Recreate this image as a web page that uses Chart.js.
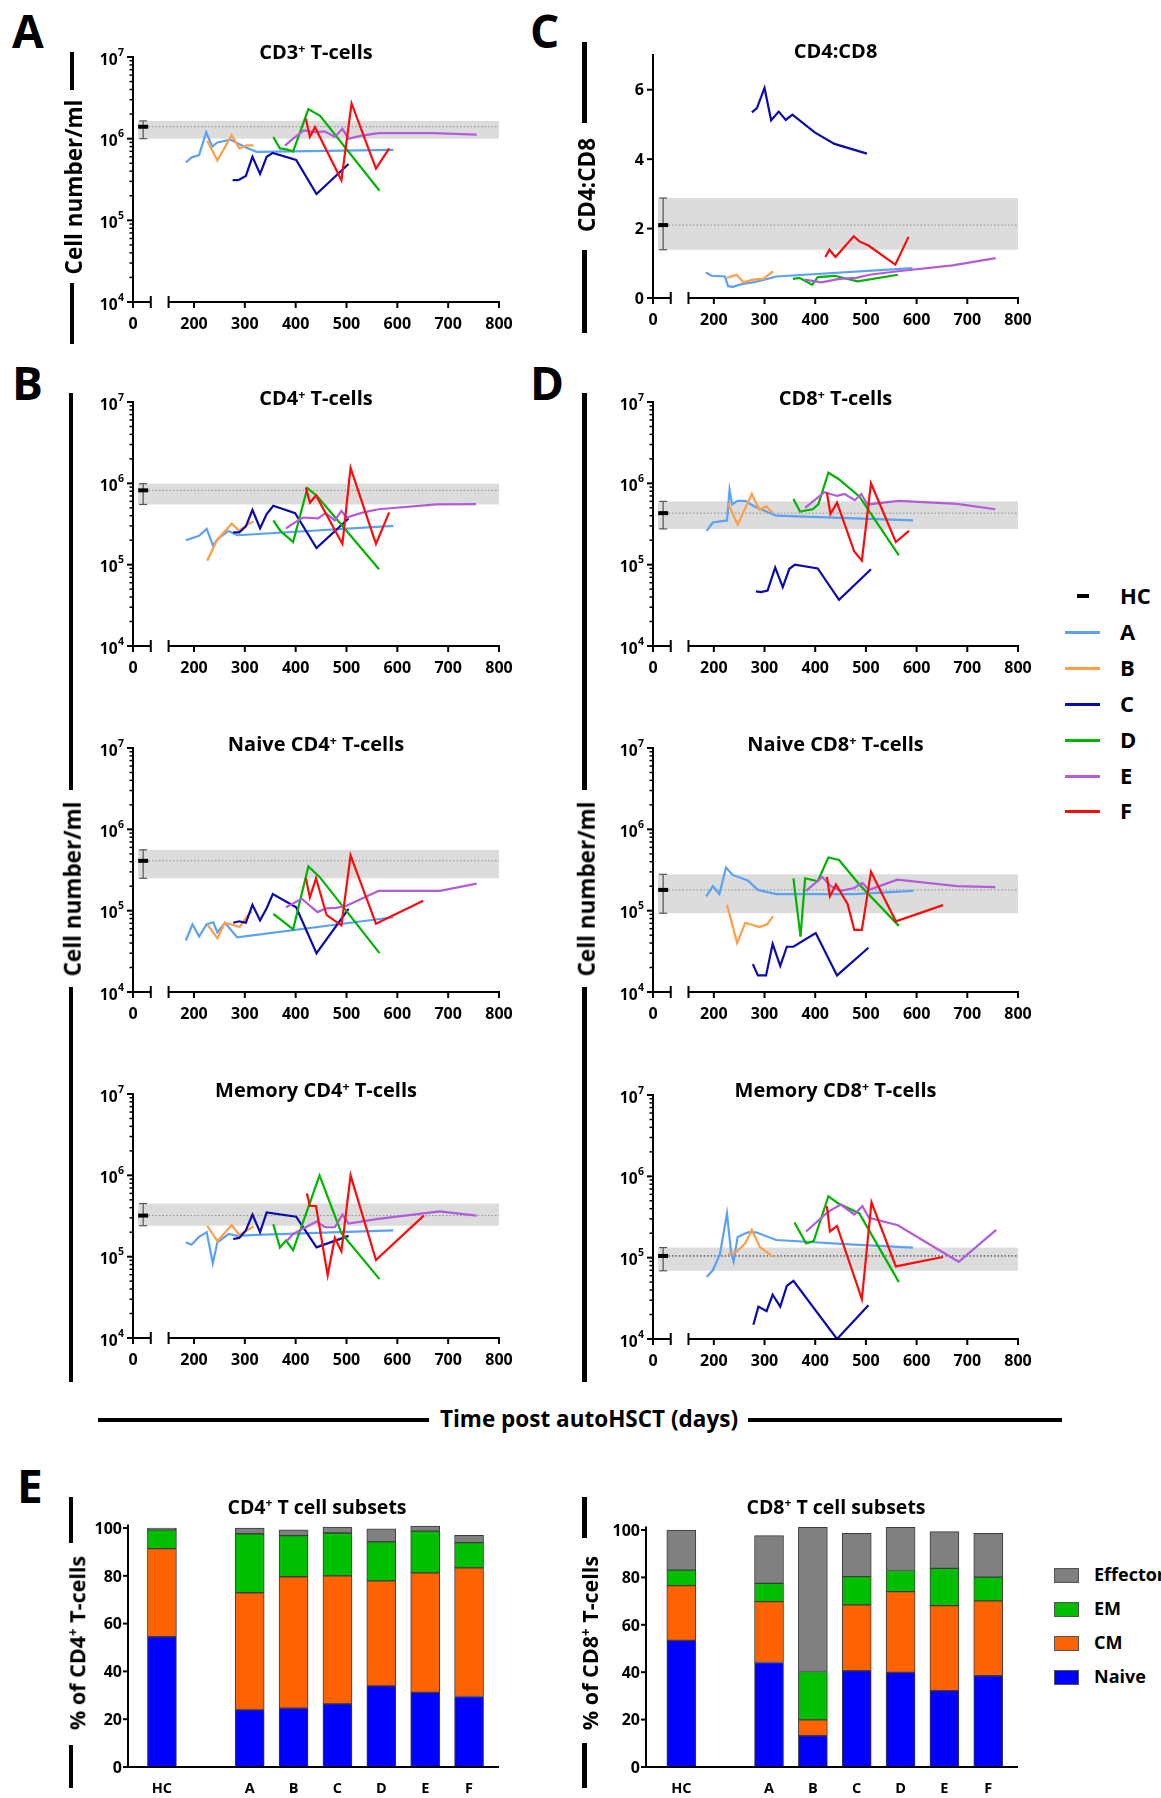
<!DOCTYPE html>
<html>
<head>
<meta charset="utf-8">
<script src="https://cdn.jsdelivr.net/npm/chart.js@4.4.1/dist/chart.umd.min.js"></script>
<style>
  html, body { margin: 0; padding: 0; background: #fff; }
  body { width: 1161px; height: 1798px; position: relative; overflow: hidden; font-family: "Open Sans", Lato, sans-serif; color: #000; }
  canvas { position: absolute; }
  .t { position: absolute; white-space: nowrap; font-weight: bold; line-height: 1; }
  .sp { font-size: 0.62em; position: relative; top: -0.55em; }
  .r { position: absolute; }
</style>
</head>
<body>
<script>
// ---------------- DATA ----------------
const PATIENTS = ['A', 'B', 'C', 'D', 'E', 'F'];
const DAY_TICKS = [0, 200, 300, 400, 500, 600, 700, 800];
const LOG_TICK_EXPONENTS = [4, 5, 6, 7];
const RATIO_TICKS = [0, 2, 4, 6];
const PERCENT_TICKS = [0, 20, 40, 60, 80, 100];
const BAR_GROUPS = ['HC', '', 'A', 'B', 'C', 'D', 'E', 'F'];
const SUBSETS = ['Effector', 'EM', 'CM', 'Naive'];

// [day, value] pairs per panel and patient
const CD3_A = [[184,5.1e5],[195,5.9e5],[210,6.3e5],[224,1.2e6],[236,8.0e5],[246,9.0e5],[272,9.7e5],[300,7.9e5],[323,6.9e5],[592,7.3e5]];
const CD3_B = [[226,9.4e5],[246,5.4e5],[274,1.1e6],[289,7.6e5],[304,8.3e5],[317,8.3e5]];
const CD3_C = [[276,3.1e5],[287,3.1e5],[302,3.5e5],[315,6.0e5],[330,3.7e5],[343,6.0e5],[355,6.7e5],[401,5.5e5],[441,2.1e5],[504,4.9e5]];
const CD3_D = [[356,1.05e6],[369,7.6e5],[382,7.4e5],[395,7.0e5],[425,2.3e6],[448,1.9e6],[565,2.3e5]];
const CD3_E = [[379,8.2e5],[395,1.0e6],[416,1.26e6],[438,1.2e6],[457,1.23e6],[477,1.05e6],[492,1.32e6],[504,1.0e6],[533,1.1e6],[563,1.17e6],[671,1.17e6],[756,1.12e6]];
const CD3_F = [[420,1.76e6],[428,1.05e6],[438,1.38e6],[490,3.1e5],[510,2.7e6],[558,4.3e5],[584,7.6e5]];

const RATIO_A = [[184,0.74],[195,0.64],[222,0.62],[228,0.34],[238,0.32],[255,0.40],[277,0.45],[300,0.53],[323,0.62],[592,0.86]];
const RATIO_B = [[226,0.58],[245,0.67],[259,0.45],[277,0.53],[297,0.55],[317,0.77]];
const RATIO_C = [[275,5.35],[285,5.47],[300,6.05],[313,5.12],[328,5.37],[342,5.13],[355,5.28],[399,4.77],[438,4.44],[502,4.16]];
const RATIO_D = [[356,0.55],[369,0.58],[394,0.38],[405,0.60],[438,0.64],[484,0.48],[563,0.67]];
const RATIO_E = [[379,0.53],[412,0.45],[448,0.55],[481,0.58],[507,0.67],[563,0.77],[671,0.94],[756,1.15]];
const RATIO_F = [[420,1.18],[428,1.39],[440,1.18],[476,1.78],[487,1.63],[505,1.51],[558,0.96],[584,1.76]];

const CD4_A = [[184,2.0e5],[210,2.27e5],[225,2.75e5],[237,1.74e5],[248,2.1e5],[268,2.6e5],[285,2.3e5],[592,3.0e5]];
const CD4_B = [[226,1.12e5],[245,2.0e5],[274,3.2e5],[289,2.6e5],[304,3.1e5],[317,3.4e5]];
const CD4_C = [[277,2.5e5],[289,2.5e5],[302,2.95e5],[315,4.7e5],[330,2.8e5],[343,4.2e5],[356,5.3e5],[399,4.3e5],[441,1.6e5],[504,3.7e5]];
const CD4_D = [[356,3.5e5],[370,2.6e5],[395,1.9e5],[423,8.7e5],[442,7.0e5],[564,8.8e4]];
const CD4_E = [[381,2.8e5],[395,3.2e5],[414,3.8e5],[444,3.7e5],[459,4.3e5],[477,3.5e5],[490,4.6e5],[500,3.8e5],[533,4.4e5],[563,4.8e5],[677,5.5e5],[755,5.55e5]];
const CD4_F = [[420,8.9e5],[428,5.8e5],[440,7.1e5],[492,1.8e5],[508,1.55e6],[558,1.8e5],[584,4.4e5]];

const CD8_A = [[186,2.6e5],[198,3.3e5],[226,3.5e5],[231,8.3e5],[236,5.5e5],[247,6.1e5],[262,6.1e5],[280,5.2e5],[323,4.0e5],[593,3.5e5]];
const CD8_B = [[228,5.7e5],[247,3.1e5],[275,7.4e5],[290,4.7e5],[303,5.2e5],[316,4.4e5]];
const CD8_C = [[283,4.7e4],[293,4.6e4],[306,4.8e4],[321,9.2e4],[336,5.3e4],[349,8.9e4],[360,1.0e5],[405,9.0e4],[447,3.7e4],[510,8.8e4]];
const CD8_D = [[357,6.4e5],[370,4.5e5],[395,4.8e5],[406,5.5e5],[426,1.35e6],[446,1.13e6],[487,6.9e5],[565,1.3e5]];
const CD8_E = [[380,5.0e5],[418,7.8e5],[443,7.0e5],[458,7.4e5],[478,6.2e5],[491,7.4e5],[503,5.5e5],[565,6.1e5],[680,5.6e5],[755,4.8e5]];
const CD8_F = [[423,7.7e5],[430,4.2e5],[443,5.8e5],[477,1.45e5],[492,1.12e5],[510,1.0e6],[559,1.9e5],[585,2.6e5]];

const NCD4_A = [[184,4.3e4],[197,6.8e4],[210,4.8e4],[225,6.8e4],[238,7.2e4],[246,5.4e4],[261,7.1e4],[285,4.7e4],[592,8.3e4]];
const NCD4_B = [[226,6.8e4],[246,4.6e4],[261,7.1e4],[290,6.3e4],[304,8.5e4],[314,9.8e4]];
const NCD4_C = [[277,7.1e4],[289,7.4e4],[302,7.1e4],[315,1.18e5],[330,7.6e4],[343,1.07e5],[355,1.6e5],[401,1.1e5],[441,3.0e4],[504,1.05e5]];
const NCD4_D = [[356,9.1e4],[369,7.9e4],[395,5.9e4],[425,3.5e5],[447,2.6e5],[565,3.0e4]];
const NCD4_E = [[381,1.1e5],[412,1.4e5],[443,9.6e4],[460,1.07e5],[480,1.08e5],[500,1.15e5],[563,1.75e5],[684,1.75e5],[756,2.15e5]];
const NCD4_F = [[420,2.5e5],[428,1.45e5],[440,2.5e5],[461,8.8e4],[490,6.6e4],[508,4.8e5],[558,6.9e4],[651,1.32e5]];

const NCD8_A = [[185,1.5e5],[198,2.0e5],[211,1.6e5],[224,3.4e5],[237,2.75e5],[267,2.35e5],[287,1.8e5],[323,1.6e5],[477,1.6e5],[593,1.75e5]];
const NCD8_B = [[226,1.18e5],[246,4.0e4],[262,7.1e4],[290,6.3e4],[305,6.8e4],[317,8.5e4]];
const NCD8_C = [[277,2.2e4],[287,1.6e4],[303,1.6e4],[316,3.9e4],[331,2.1e4],[344,3.6e4],[357,3.6e4],[401,5.3e4],[443,1.6e4],[505,3.5e4]];
const NCD8_D = [[357,2.5e5],[371,4.8e4],[380,2.5e5],[405,2.3e5],[426,4.5e5],[447,4.2e5],[487,2.1e5],[565,6.5e4]];
const NCD8_E = [[382,1.75e5],[414,2.6e5],[431,2.0e5],[450,1.75e5],[477,1.9e5],[493,2.2e5],[506,1.8e5],[562,2.4e5],[680,2.0e5],[755,1.95e5]];
const NCD8_F = [[423,2.6e5],[429,1.5e5],[441,2.1e5],[464,1.2e5],[477,5.8e4],[492,5.8e4],[510,3.0e5],[559,7.4e4],[652,1.17e5]];

const MCD4_A = [[184,1.5e5],[195,1.4e5],[210,1.75e5],[225,2.0e5],[237,8.3e4],[246,1.5e5],[268,1.9e5],[285,1.8e5],[323,1.85e5],[592,2.1e5]];
const MCD4_B = [[226,2.4e5],[246,1.55e5],[274,2.45e5],[289,1.85e5],[304,2.1e5],[317,2.35e5]];
const MCD4_C = [[277,1.65e5],[289,1.7e5],[302,2.1e5],[315,3.3e5],[330,2.0e5],[343,3.5e5],[401,3.1e5],[441,1.3e5],[504,1.8e5]];
const MCD4_D = [[356,2.5e5],[369,1.3e5],[381,1.58e5],[395,1.2e5],[447,1.0e6],[490,1.95e5],[565,5.3e4]];
const MCD4_E = [[382,1.55e5],[395,1.9e5],[441,2.7e5],[458,2.3e5],[477,2.3e5],[492,3.3e5],[504,2.55e5],[559,2.9e5],[683,3.6e5],[756,3.2e5]];
const MCD4_F = [[422,6.0e5],[428,4.2e5],[440,4.2e5],[463,5.9e4],[477,1.7e5],[490,1.17e5],[508,1.0e6],[558,9.1e4],[652,3.2e5]];

const MCD8_A = [[186,5.8e4],[198,7.0e4],[212,1.1e5],[226,3.5e5],[234,1.15e5],[239,9.0e4],[247,1.8e5],[267,2.05e5],[283,2.05e5],[323,1.65e5],[477,1.45e5],[593,1.33e5]];
const MCD8_B = [[228,1.1e5],[246,1.2e5],[262,1.5e5],[275,2.2e5],[291,1.35e5],[316,1.03e5]];
const MCD8_C = [[278,1.5e4],[288,2.5e4],[304,2.2e4],[316,3.5e4],[331,2.5e4],[344,4.5e4],[357,5.2e4],[443,1.0e4],[505,2.6e4]];
const MCD8_D = [[359,2.7e5],[382,1.5e5],[397,1.6e5],[426,5.7e5],[444,4.7e5],[487,3.5e5],[565,5.0e4]];
const MCD8_E = [[382,2.1e5],[424,3.6e5],[450,4.5e5],[477,3.4e5],[493,4.3e5],[506,3.1e5],[563,2.5e5],[683,8.9e4],[757,2.2e5]];
const MCD8_F = [[423,4.3e5],[429,2.1e5],[443,2.45e5],[492,3.1e4],[511,4.8e5],[559,7.8e4],[652,1.02e5]];

// healthy controls, order: CD3, CD4:CD8, CD4, CD8, naive CD4, naive CD8, memory CD4, memory CD8
const HC_MEAN = [1.4e6, 2.1, 8.2e5, 4.3e5, 4.1e5, 1.8e5, 3.2e5, 1.05e5];
const HC_LOW  = [1.0e6, 1.39, 5.5e5, 2.75e5, 2.5e5, 9.3e4, 2.4e5, 6.9e4];
const HC_HIGH = [1.65e6, 2.88, 9.9e5, 6.0e5, 5.6e5, 2.8e5, 4.5e5, 1.33e5];

// subset percentages (HC, gap, A..F)
const CD4_NAIVE = [54.5, null, 23.9, 24.6, 26.4, 33.9, 31.2, 29.5];
const CD4_CM    = [36.9, null, 49.0, 55.0, 53.6, 44.0, 50.0, 53.8];
const CD4_EM    = [7.8,  null, 24.7, 17.2, 17.9, 16.3, 17.5, 10.6];
const CD4_EFF   = [0.8,  null, 2.4,  2.4,  2.5,  5.5,  2.1,  3.0];
const CD8_NAIVE = [53.4, null, 44.1, 13.2, 40.6, 39.9, 32.2, 38.5];
const CD8_CM    = [23.1, null, 25.7, 6.7,  27.8, 34.1, 35.9, 31.6];
const CD8_EM    = [6.6,  null, 7.7,  20.4, 11.9, 8.9,  15.7, 10.0];
const CD8_EFF   = [16.9, null, 20.1, 60.8, 18.3, 18.2, 15.5, 18.5];

// ---------------- STYLE / LAYOUT ----------------
const PATIENT_COLORS = ['#5AA2F5', '#FF9E45', '#0A0AAE', '#00B400', '#B35BDB', '#FF0A0A'];
const SUBSET_COLORS = { Naive: '#0000FF', CM: '#FF6200', EM: '#00BF00', Effector: '#808080' };
const FONT = '"Open Sans", Lato, sans-serif';
const AXIS_ORIGIN = 80;    // axis position of the "0" label (broken axis)
const HC_X = 100;          // where the HC mean is plotted
const BAND_START = 90;
const LEFT_SEG_END = 115;
const RIGHT_SEG_START = 150;
const AXIS_MAX = 800;
const PCT_MAX = 102;

const LINE_PANELS = [
  { series: [CD3_A, CD3_B, CD3_C, CD3_D, CD3_E, CD3_F], hc: 0, log: true, box: { l: 133, t: 57, r: 499, b: 302 }, title: 'CD3<span class="sp">+</span> T-cells', titleY: 53, meanColor: '#8c8c8c' },
  { series: [RATIO_A, RATIO_B, RATIO_C, RATIO_D, RATIO_E, RATIO_F], hc: 1, log: false, box: { l: 653, t: 55, r: 1018, b: 298 }, title: 'CD4:CD8', titleY: 52, meanColor: '#8c8c8c' },
  { series: [CD4_A, CD4_B, CD4_C, CD4_D, CD4_E, CD4_F], hc: 2, log: true, box: { l: 133, t: 402, r: 499, b: 646 }, title: 'CD4<span class="sp">+</span> T-cells', titleY: 399, meanColor: '#8c8c8c' },
  { series: [CD8_A, CD8_B, CD8_C, CD8_D, CD8_E, CD8_F], hc: 3, log: true, box: { l: 653, t: 402, r: 1018, b: 646 }, title: 'CD8<span class="sp">+</span> T-cells', titleY: 399, meanColor: '#8c8c8c' },
  { series: [NCD4_A, NCD4_B, NCD4_C, NCD4_D, NCD4_E, NCD4_F], hc: 4, log: true, box: { l: 133, t: 748, r: 499, b: 992 }, title: 'Naive CD4<span class="sp">+</span> T-cells', titleY: 745, meanColor: '#8c8c8c' },
  { series: [NCD8_A, NCD8_B, NCD8_C, NCD8_D, NCD8_E, NCD8_F], hc: 5, log: true, box: { l: 653, t: 748, r: 1018, b: 992 }, title: 'Naive CD8<span class="sp">+</span> T-cells', titleY: 745, meanColor: '#8c8c8c' },
  { series: [MCD4_A, MCD4_B, MCD4_C, MCD4_D, MCD4_E, MCD4_F], hc: 6, log: true, box: { l: 133, t: 1094, r: 499, b: 1338 }, title: 'Memory CD4<span class="sp">+</span> T-cells', titleY: 1091, meanColor: '#8c8c8c' },
  { series: [MCD8_A, MCD8_B, MCD8_C, MCD8_D, MCD8_E, MCD8_F], hc: 7, log: true, box: { l: 653, t: 1095, r: 1018, b: 1339 }, title: 'Memory CD8<span class="sp">+</span> T-cells', titleY: 1091, meanColor: '#222' }
];

const BAR_PANELS = [
  { naive: CD4_NAIVE, cm: CD4_CM, em: CD4_EM, eff: CD4_EFF, box: { axis: 128, l: 140, r: 491, xEnd: 499, y0: 1767, y100: 1528 } },
  { naive: CD8_NAIVE, cm: CD8_CM, em: CD8_EM, eff: CD8_EFF, box: { axis: 646, l: 659.4, r: 1010.2, xEnd: 1018, y0: 1767, y100: 1530 } }
];

// ---------------- HELPERS ----------------
function line(ctx, x1, y1, x2, y2) { ctx.beginPath(); ctx.moveTo(x1, y1); ctx.lineTo(x2, y2); ctx.stroke(); }
function capText(ctx, s, x, yc, size, align) {
  ctx.font = 'bold ' + size + 'px ' + FONT;
  ctx.textAlign = align; ctx.textBaseline = 'alphabetic';
  ctx.fillText(s, x, yc + 0.357 * size);
}
function makeCanvas(left, top, w, h) {
  const c = document.createElement('canvas');
  c.width = w; c.height = h;
  c.style.left = left + 'px'; c.style.top = top + 'px';
  c.style.width = w + 'px'; c.style.height = h + 'px';
  document.body.appendChild(c);
  return c;
}
function addText(html, x, yc, size, align) {
  const d = document.createElement('div');
  d.className = 't';
  d.innerHTML = html;
  d.style.fontSize = size + 'px';
  d.style.left = x + 'px';
  d.style.top = (yc - 0.531 * size) + 'px';
  if (align === 'center') d.style.transform = 'translateX(-50%)';
  if (align === 'right') d.style.transform = 'translateX(-100%)';
  document.body.appendChild(d);
  return d;
}
function addVText(html, cx, cy, size) {
  const d = document.createElement('div');
  d.className = 't';
  d.innerHTML = html;
  d.style.fontSize = size + 'px';
  d.style.left = cx + 'px';
  d.style.top = cy + 'px';
  d.style.transform = 'translate(-50%,-50%) rotate(-90deg)';
  document.body.appendChild(d);
}
function addRect(x, y, w, h, color, border) {
  const d = document.createElement('div');
  d.className = 'r';
  d.style.left = x + 'px'; d.style.top = y + 'px';
  d.style.width = w + 'px'; d.style.height = h + 'px';
  d.style.background = color;
  if (border) { d.style.boxSizing = 'border-box'; d.style.border = border; }
  document.body.appendChild(d);
}
function vBar(cx, y1, y2) { addRect(cx - 2.25, y1, 4.5, y2 - y1, '#000'); }
function hBar(cy, x1, x2) { addRect(x1, cy - 2.25, x2 - x1, 4.5, '#000'); }

// ---------------- PLUGINS ----------------
const lineAxes = {
  id: 'lineAxes',
  beforeDatasetsDraw(chart, args, o) {
    const ctx = chart.ctx, xs = chart.scales.x, ys = chart.scales.y;
    const x0 = xs.getPixelForValue(BAND_START), x1 = xs.getPixelForValue(AXIS_MAX);
    const yh = ys.getPixelForValue(o.hi), yl = ys.getPixelForValue(o.lo), ym = ys.getPixelForValue(o.mean);
    ctx.save();
    ctx.fillStyle = '#dcdcdc';
    ctx.fillRect(x0, yh, x1 - x0, yl - yh);
    ctx.strokeStyle = o.meanColor; ctx.lineWidth = 1; ctx.setLineDash([1.5, 2]);
    line(ctx, x0, ym, x1, ym);
    ctx.setLineDash([]);
    const xe = xs.getPixelForValue(HC_X);
    ctx.strokeStyle = '#555'; ctx.lineWidth = 1.2;
    line(ctx, xe, yh, xe, yl);
    line(ctx, xe - 4, yh, xe + 4, yh);
    line(ctx, xe - 4, yl, xe + 4, yl);
    ctx.restore();
  },
  afterDraw(chart, args, o) {
    const ctx = chart.ctx, xs = chart.scales.x, ys = chart.scales.y;
    const L = xs.getPixelForValue(AXIS_ORIGIN);
    const B = ys.getPixelForValue(o.log ? 1e4 : 0);
    const T = ys.getPixelForValue(o.log ? 1e7 : 7);
    ctx.save();
    ctx.strokeStyle = '#000'; ctx.fillStyle = '#000'; ctx.lineWidth = 2;
    line(ctx, L, T - 1, L, B + 6);
    if (o.log) {
      for (let e = 4; e <= 6; e++) {
        for (let m = 1; m <= 9; m++) {
          const y = ys.getPixelForValue(m * Math.pow(10, e));
          ctx.lineWidth = m === 1 ? 2 : 1.5;
          line(ctx, L - (m === 1 ? 6 : 3.5), y, L, y);
        }
      }
      ctx.lineWidth = 2;
      line(ctx, L - 6, T, L, T);
      LOG_TICK_EXPONENTS.forEach(ex => {
        const y = ys.getPixelForValue(Math.pow(10, ex));
        ctx.font = 'bold 10.5px ' + FONT;
        const sw = ctx.measureText(String(ex)).width;
        const xr = L - 9;
        capText(ctx, '10', xr - sw - 0.5, y + 2, 15.5, 'right');
        capText(ctx, String(ex), xr - sw, y - 5, 10.5, 'left');
      });
    } else {
      RATIO_TICKS.forEach(v => {
        const y = ys.getPixelForValue(v);
        line(ctx, L - 6, y, L, y);
        capText(ctx, String(v), L - 9, y, 16, 'right');
      });
    }
    ctx.lineWidth = 2;
    const xa = xs.getPixelForValue(LEFT_SEG_END), xb = xs.getPixelForValue(RIGHT_SEG_START), xr = xs.getPixelForValue(AXIS_MAX);
    line(ctx, L - 1, B, xa, B);
    line(ctx, xa, B - 6, xa, B + 6);
    line(ctx, xb, B, xr + 1, B);
    line(ctx, xb, B - 6, xb, B + 6);
    DAY_TICKS.forEach(v => {
      const px = v === 0 ? L : xs.getPixelForValue(v);
      if (v > 0) line(ctx, px, B, px, B + 6);
      capText(ctx, String(v), px, B + 21.5, 16, 'center');
    });
    ctx.restore();
  }
};

const barAxes = {
  id: 'barAxes',
  afterDraw(chart, args, o) {
    const ctx = chart.ctx, xs = chart.scales.x, ys = chart.scales.y;
    const ax = o.axis;
    const y0 = ys.getPixelForValue(0), yTop = ys.getPixelForValue(101.5);
    ctx.save();
    ctx.strokeStyle = '#000'; ctx.fillStyle = '#000'; ctx.lineWidth = 2;
    line(ctx, ax, yTop, ax, y0 + 1);
    line(ctx, ax - 1, y0, o.xEnd, y0);
    PERCENT_TICKS.forEach(v => {
      const y = ys.getPixelForValue(v);
      line(ctx, ax - 5, y, ax, y);
      capText(ctx, String(v), ax - 6, y, 16, 'right');
    });
    BAR_GROUPS.forEach((g, i) => {
      if (!g) return;
      capText(ctx, g, xs.getPixelForValue(i), y0 + 21, 14.5, 'center');
    });
    ctx.restore();
  }
};

// ---------------- BUILD ----------------
function buildLineChart(p) {
  const g = p.box;
  const pad = { left: 70, top: 12, right: 14, bottom: 40 };
  const w = g.r - g.l + pad.left + pad.right, h = g.b - g.t + pad.top + pad.bottom;
  const canvas = makeCanvas(g.l - pad.left, g.t - pad.top, w, h);
  const datasets = [{
    label: 'HC', data: [{ x: HC_X, y: HC_MEAN[p.hc] }], showLine: false,
    pointStyle: 'line', pointRadius: 5, pointHoverRadius: 5, pointBorderWidth: 4,
    pointBorderColor: '#000', borderColor: '#000', backgroundColor: '#000'
  }];
  for (let i = PATIENTS.length - 1; i >= 0; i--) {
    datasets.push({
      label: PATIENTS[i],
      data: p.series[i].map(([x, y]) => ({ x, y })),
      showLine: true, borderColor: PATIENT_COLORS[i], backgroundColor: PATIENT_COLORS[i],
      borderWidth: 2.2, pointRadius: 0, pointHoverRadius: 0, tension: 0, fill: false,
      borderJoinStyle: 'miter'
    });
  }
  new Chart(canvas, {
    type: 'scatter',
    data: { datasets },
    options: {
      responsive: false, animation: false, events: [],
      layout: { padding: pad },
      plugins: {
        legend: { display: false }, tooltip: { enabled: false },
        lineAxes: { mean: HC_MEAN[p.hc], lo: HC_LOW[p.hc], hi: HC_HIGH[p.hc], log: p.log, meanColor: p.meanColor }
      },
      scales: {
        x: { type: 'linear', min: AXIS_ORIGIN, max: AXIS_MAX, display: false },
        y: p.log ? { type: 'logarithmic', min: 1e4, max: 1e7, display: false }
                 : { type: 'linear', min: 0, max: 7, display: false }
      }
    },
    plugins: [lineAxes]
  });
  addText(p.title, (g.l + g.r) / 2, p.titleY, 20, 'center');
}

function buildBarChart(b) {
  const g = b.box;
  const top = g.y0 - (g.y0 - g.y100) * (PCT_MAX / 100);
  const cl = Math.round(g.axis - 50), ct = Math.round(top - 15);
  const cw = Math.round(g.xEnd + 12 - cl), ch = 1798 - ct;
  const pad = { left: g.l - cl, top: top - ct, right: cw - (g.r - cl), bottom: ch - (g.y0 - ct) };
  const canvas = makeCanvas(cl, ct, cw, ch);
  const mk = (label, data) => ({
    label, data, backgroundColor: SUBSET_COLORS[label], borderColor: '#3c3c3c',
    borderWidth: 1, borderSkipped: false, barThickness: 29
  });
  new Chart(canvas, {
    type: 'bar',
    data: { labels: BAR_GROUPS, datasets: [mk('Naive', b.naive), mk('CM', b.cm), mk('EM', b.em), mk('Effector', b.eff)] },
    options: {
      responsive: false, animation: false, events: [],
      layout: { padding: pad },
      plugins: { legend: { display: false }, tooltip: { enabled: false }, barAxes: { axis: g.axis - cl, xEnd: g.xEnd - cl } },
      scales: {
        x: { type: 'category', stacked: true, offset: true, display: false },
        y: { stacked: true, min: 0, max: PCT_MAX, display: false }
      }
    },
    plugins: [barAxes]
  });
}

LINE_PANELS.forEach(buildLineChart);
BAR_PANELS.forEach(buildBarChart);

// ---------------- DECORATIONS (text) ----------------
// panel letters
addText('A', 12, 31.5, 46, 'left');
addText('C', 530, 31.5, 46, 'left');
addText('B', 12, 383.5, 46, 'left');
addText('D', 530, 383.5, 46, 'left');
addText('E', 17, 1486.5, 46, 'left');

// y-axis titles with bars
vBar(72, 52, 90); vBar(72, 283, 344);
addVText('Cell number/ml', 74, 187, 22.5);
vBar(584.5, 42, 123); vBar(584.5, 250, 333);
addVText('CD4:CD8', 587, 185, 22.5);
vBar(71, 393, 790); vBar(71, 987, 1382);
addVText('Cell number/ml', 73, 889, 22.5);
vBar(584.5, 393, 790); vBar(584.5, 987, 1382);
addVText('Cell number/ml', 587, 889, 22.5);

// shared x title
hBar(1420, 98, 429); hBar(1420, 748, 1062);
addText('Time post autoHSCT (days)', 589, 1420, 22.5, 'center');

// line legend
addRect(1077, 594, 12, 4, '#000');
addText('HC', 1120, 596, 22, 'left');
const LEG_Y = [632, 668, 704, 740, 776, 811];
PATIENTS.forEach((p, i) => {
  addRect(1065, LEG_Y[i] - 1.5, 35, 3, PATIENT_COLORS[i]);
  addText(p, 1120, LEG_Y[i], 22, 'left');
});

// bar panel titles
addText('CD4<span class="sp">+</span> T cell subsets', 317, 1507, 19.5, 'center');
addText('CD8<span class="sp">+</span> T cell subsets', 836, 1507, 19.5, 'center');
vBar(71, 1497, 1543); vBar(71, 1745, 1788);
addVText('% of CD4<span class="sp">+</span> T-cells', 77, 1643, 21.5);
vBar(584.5, 1497, 1538); vBar(584.5, 1743, 1788);
addVText('% of CD8<span class="sp">+</span> T-cells', 590, 1643, 21.5);

// bar legend
const BAR_LEG_Y = [1575, 1609, 1643, 1677];
SUBSETS.forEach((s, i) => {
  addRect(1054, BAR_LEG_Y[i] - 7.5, 25, 15, SUBSET_COLORS[s], '1px solid #555');
  addText(s, 1094, BAR_LEG_Y[i], 18, 'left');
});
</script>
</body>
</html>
